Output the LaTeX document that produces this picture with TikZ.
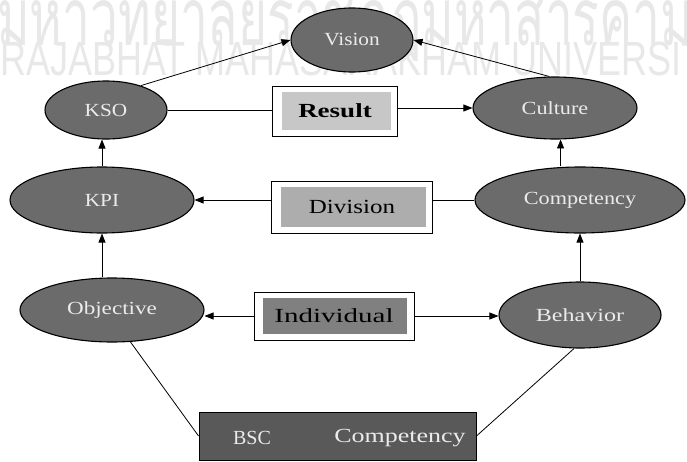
\documentclass[tikz,border=0pt]{standalone}
\usepackage{fontspec}
\setmainfont{Liberation Serif}
\newfontfamily\thaifont[Script=Thai]{Loma}
\newfontfamily\wmfont{Liberation Sans}
\usepackage{graphicx}
\usetikzlibrary{shapes.geometric,arrows.meta}
\newcommand{\hsc}[2]{\scalebox{#1}[1]{#2}}
\tikzset{
  ell/.style={ellipse, draw=black, line width=1.1pt, fill=black!58, text=black!8,
    inner sep=0pt, font=\fontsize{18.5}{18.5}\selectfont},
  boxst/.style={rectangle, draw=black, line width=0.9pt, fill=white, inner sep=0pt,
    font=\fontsize{20}{20}\selectfont,
    path picture={\fill[#1] ([shift={(9pt,6pt)}]path picture bounding box.south west)
      rectangle ([shift={(-7pt,-6pt)}]path picture bounding box.north east);}},
  arr/.style={-{Triangle[length=9pt,width=7pt]}, line width=0.8pt},
  ln/.style={line width=0.8pt},
  wm/.style={inner sep=0pt, text=black!9}
}
\begin{document}
\begin{tikzpicture}[x=1pt,y=-1pt]
\useasboundingbox (0,0) rectangle (687,461);
\clip (0,0) rectangle (687,461);
\fill[white] (0,0) rectangle (687,461);
% watermark
\node[wm, anchor=base west] (wmthai) at (-3,45) {\hsc{0.62}{\thaifont\fontsize{80}{80}\selectfont มหาวิทยาลัยราชภัฏมหาสารคาม}};
\node[wm, anchor=base west] (wmlat) at (0,75) {\hsc{0.75}{\wmfont\fontsize{48}{48}\selectfont RAJABHAT MAHASARAKHAM UNIVERSITY}};
% ellipses
\node[ell, minimum width=122pt, minimum height=64pt] (vision) at (352,40) {\hsc{1.15}{Vision}};
\node[ell, minimum width=122pt, minimum height=58pt] (kso) at (106,110) {\hsc{1.15}{KSO}};
\node[ell, minimum width=164pt, minimum height=62pt] (culture) at (555,108) {\hsc{1.2}{Culture}};
\node[ell, minimum width=184pt, minimum height=66pt] (kpi) at (102,200) {\hsc{1.15}{KPI}};
\node[ell, minimum width=210pt, minimum height=66pt] (comp) at (580,200) {\hsc{1.2}{Competency}};
\node[ell, minimum width=184pt, minimum height=64pt] (obj) at (112,310) {\hsc{1.25}{Objective}};
\node[ell, minimum width=162pt, minimum height=66pt] (beh) at (580,315) {\hsc{1.3}{Behavior}};
% boxes
\node[boxst=black!22, minimum width=125pt, minimum height=50pt] (result) at (335,111) {\hsc{1.35}{\bfseries Result}};
\node[boxst=black!32, minimum width=161pt, minimum height=52pt] (div) at (352,207) {\hsc{1.25}{Division}};
\node[boxst=black!50, minimum width=160pt, minimum height=48pt] (ind) at (334,316) {\hsc{1.45}{Individual}};
\node[draw=black, line width=0.9pt, fill=black!65, minimum width=277pt, minimum height=48pt] (bsc) at (337.5,436) {};
\node[inner sep=0pt, text=black!8, font=\fontsize{20}{20}\selectfont] (bsclbl) at (252,438) {\hsc{1.0}{BSC}};
\node[inner sep=0pt, text=black!8, font=\fontsize{20}{20}\selectfont] (cmplbl) at (400,438) {\hsc{1.3}{Competency}};
% connectors
\draw[arr] (kso.35) -- (vision.west);
\draw[arr] (culture.100) -- (vision.east);
\draw[ln] (kso.east) -- (kso.east -| result.west);
\draw[arr] (result.east |- culture.west) -- (culture.west);
\draw[ln] (comp.west) -- (comp.west -| div.east);
\draw[arr] (div.west |- kpi.east) -- (kpi.east);
\draw[arr] (ind.west) -- (ind.west -| obj.east);
\draw[arr] (ind.east) -- (ind.east -| beh.west);
\draw[arr] (kpi.south |- obj.north) -- (kpi.south);
\draw[arr] (kpi.north) -- (kpi.north |- kso.south);
\draw[arr] (beh.north) -- (comp.south);
\draw[arr] (culture.-80 |- comp.north) -- (culture.-80);
\draw[ln] (obj.-60) -- (bsc.west);
\draw[ln] (beh.-100) -- (bsc.east);
\end{tikzpicture}
\end{document}
